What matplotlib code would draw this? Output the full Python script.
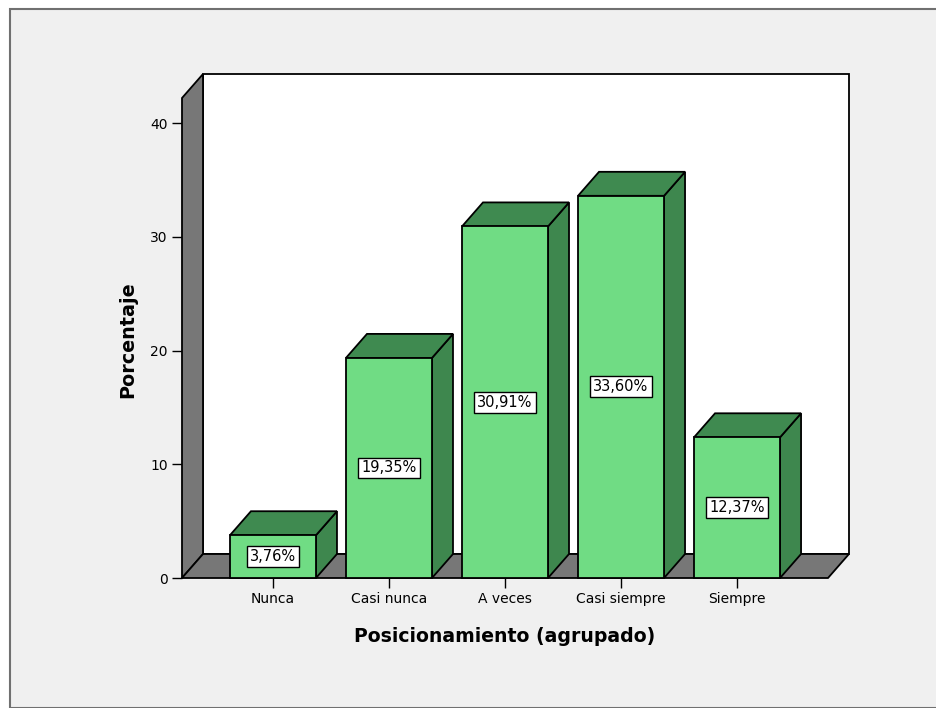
import matplotlib
matplotlib.use("Agg")
import matplotlib.pyplot as plt
from matplotlib.patches import Polygon, Rectangle

categories = ["Nunca", "Casi nunca", "A veces", "Casi siempre", "Siempre"]
values = [3.76, 19.35, 30.91, 33.60, 12.37]
labels = ["3,76%", "19,35%", "30,91%", "33,60%", "12,37%"]
yticks = [0, 10, 20, 30, 40]

W, H = 937, 708
fig = plt.figure(figsize=(W / 100, H / 100), dpi=100)
fig.patch.set_facecolor("white")

# outer frame
frame = Rectangle((10 / W, 0), 2, 1 - 9 / H, transform=fig.transFigure,
                  facecolor="#f0f0f0", edgecolor="#707070", linewidth=1.5, zorder=-5)
fig.patches.append(frame)

ax = fig.add_axes([182 / W, 1 - 578 / H, (828 - 182) / W, (578 - 98) / H])
ax.set_zorder(1)
ax.set_facecolor("none")
xmin, xmax = -0.784, 4.784
ymin, ymax = 0, 42.2
ax.set_xlim(xmin, xmax)
ax.set_ylim(ymin, ymax)
for s in ax.spines.values():
    s.set_visible(False)

dx = 21 / 116.0
dy = 24 / 11.375

gray = "#777777"
front_c = "#70dc84"
top_c = "#3f8a50"
side_c = "#3e874e"
lw = 1.3

# back wall
ax.add_patch(Polygon([(xmin + dx, dy), (xmax + dx, dy), (xmax + dx, ymax + dy), (xmin + dx, ymax + dy)],
                     closed=True, facecolor="white", edgecolor="black", lw=lw, clip_on=False, zorder=1))
# left wall
ax.add_patch(Polygon([(xmin, 0), (xmin, ymax), (xmin + dx, ymax + dy), (xmin + dx, dy)],
                     closed=True, facecolor=gray, edgecolor="black", lw=lw, clip_on=False, zorder=2))
# floor
ax.add_patch(Polygon([(xmin, 0), (xmax, 0), (xmax + dx, dy), (xmin + dx, dy)],
                     closed=True, facecolor=gray, edgecolor="black", lw=lw, clip_on=False, zorder=2))

bw = 86 / 116.0
for i, (v, lab) in enumerate(zip(values, labels)):
    l, r = i - bw / 2, i + bw / 2
    ax.add_patch(Polygon([(r, 0), (r, v), (r + dx, v + dy), (r + dx, dy)], closed=True,
                         facecolor=side_c, edgecolor="black", lw=lw, clip_on=False, zorder=3))
    ax.add_patch(Polygon([(l, v), (r, v), (r + dx, v + dy), (l + dx, v + dy)], closed=True,
                         facecolor=top_c, edgecolor="black", lw=lw, clip_on=False, zorder=3))
    ax.add_patch(Rectangle((l, 0), bw, v, facecolor=front_c, edgecolor="black", lw=lw,
                           clip_on=False, zorder=4))
    ax.text(i, v / 2, lab, ha="center", va="center", fontsize=10.5, zorder=5,
            bbox=dict(boxstyle="square,pad=0.2", facecolor="white", edgecolor="black", lw=1))

ax.set_xticks(range(len(categories)))
ax.set_xticklabels(categories, fontsize=10)
ax.set_yticks(yticks)
ax.set_yticklabels([str(t) for t in yticks], fontsize=10)
ax.tick_params(axis="both", length=7.2, width=1, color="black", pad=3)

fig.text(128 / W, 1 - 340 / H, "Porcentaje", rotation=90, ha="center", va="center",
         fontsize=13.8, fontweight="bold")
fig.text(505 / W, 1 - 636 / H, "Posicionamiento (agrupado)", ha="center", va="center",
         fontsize=13.6, fontweight="bold")

fig.savefig("out.png", dpi=100, facecolor=fig.get_facecolor())
